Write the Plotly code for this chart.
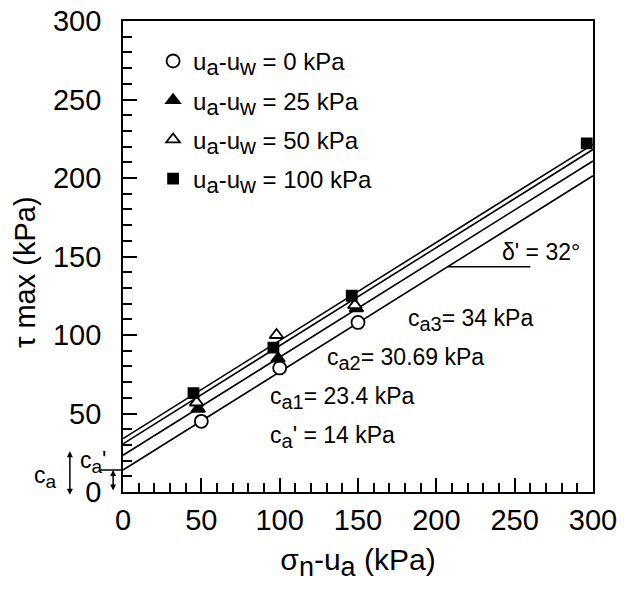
import numpy as np
import plotly.graph_objects as go

# ---- data ----
x_s0 = [50, 100, 150]
y_s0 = [45, 79, 108]
x_s25 = [48, 99, 149]
y_s25 = [53, 85, 117]
x_s50 = [47, 98, 148]
y_s50 = [57, 100, 119]
x_s100 = [45, 96, 146, 296]
y_s100 = [63, 92, 125, 222]

intercepts = [14, 23.4, 30.69, 34]   # c_a', c_a1, c_a2, c_a3 (kPa)
delta_deg = 32
line_x = [0, 300]
suction = ["0", "25", "50", "100"]
tick_vals = [0, 50, 100, 150, 200, 250, 300]

FONT = "Liberation Sans, Arial, sans-serif"
slope = np.tan(np.radians(delta_deg))


def sub(t, px):
    return f"<sub><span style='font-size:{px}px'>{t}</span></sub>"


legend_names = [f"u{sub('a', 22)}-u{sub('w', 22)} = {s} kPa" for s in suction]
ca_labels = [f"c{sub('a', 20)}' = 14 kPa", f"c{sub('a1', 20)}= 23.4 kPa",
             f"c{sub('a2', 20)}= 30.69 kPa", f"c{sub('a3', 20)}= 34 kPa"]

fig = go.Figure()

for c in intercepts:
    fig.add_trace(go.Scatter(x=line_x, y=[c + slope * xx for xx in line_x], mode="lines",
                             line=dict(color="black", width=1.6), showlegend=False,
                             hoverinfo="skip"))

series = [
    (x_s0, y_s0, "circle", 13, "white", legend_names[0]),
    (x_s25, y_s25, "triangle-up", 12, "black", legend_names[1]),
    (x_s50, y_s50, "triangle-up", 12, "white", legend_names[2]),
    (x_s100, y_s100, "square", 10, "black", legend_names[3]),
]
for i, (xs, ys, sym, sz, fill, nm) in enumerate(series):
    fig.add_trace(go.Scatter(x=xs, y=ys, mode="markers", name=nm, legendgroup=f"g{i}",
                             marker=dict(symbol=sym, size=sz, color=fill,
                                         line=dict(color="black", width=1.8))))

ann_font = dict(family=FONT, size=23, color="black")
ann_pos = [(134, 35), (140, 60), (180, 85), (222, 109.5)]
for (ax_, ay_), txt in zip(ann_pos, ca_labels):
    fig.add_annotation(x=ax_, y=ay_, text=txt, showarrow=False, font=ann_font)

fig.add_annotation(x=267, y=153, text="δ' = 32°", showarrow=False, font=ann_font)
y_ref = 143.5
fig.add_shape(type="line", x0=(y_ref - intercepts[0]) / slope, x1=260, y0=y_ref, y1=y_ref,
              xref="x", yref="y", line=dict(color="black", width=1.6))

# left-side c_a annotations
fig.add_annotation(x=-0.0955, xref="paper", y=19, yref="y", text=f"c{sub('a', 19)}'",
                   showarrow=False, font=dict(family=FONT, size=23, color="black"))
fig.add_annotation(x=-0.194, xref="paper", y=9.5, yref="y", text=f"c{sub('a', 19)}",
                   showarrow=False, font=dict(family=FONT, size=23, color="black"))
fig.add_shape(type="line", x0=-0.049, x1=0, xref="paper", y0=intercepts[0], y1=intercepts[0],
              yref="y", line=dict(color="black", width=1.5))
fig.add_annotation(x=-0.021, xref="paper", y=intercepts[0], yref="y", ax=0, ay=22,
                   showarrow=True, arrowside="end+start", arrowhead=2, arrowsize=0.8,
                   arrowwidth=1.5, arrowcolor="black", text="")
fig.add_annotation(x=-0.113, xref="paper", y=26, yref="y", ax=0, ay=45,
                   showarrow=True, arrowside="end+start", arrowhead=2, arrowsize=0.8,
                   arrowwidth=1.5, arrowcolor="black", text="")

# y-axis title placed as rotated text
fig.add_annotation(x=-0.2085, xref="paper", y=0.467, yref="paper", text="τ max (kPa)",
                   textangle=-90, showarrow=False, xanchor="center", yanchor="middle",
                   font=dict(family=FONT, size=29, color="black"))

axis_common = dict(
    range=[0, 300], showline=True, linecolor="black", linewidth=1.8, mirror=True,
    showgrid=False, zeroline=False, ticks="inside", ticklen=14, tickwidth=1.8,
    tickcolor="black", tickmode="array", tickvals=tick_vals, automargin=False,
    tickfont=dict(family=FONT, size=29, color="black"), ticklabeloverflow="allow",
    minor=dict(dtick=10, tick0=0, ticks="inside", ticklen=9, tickwidth=1.8, tickcolor="black",
               showgrid=False),
)

fig.update_layout(
    width=624, height=592,
    margin=dict(l=123, r=31, t=21, b=100),
    paper_bgcolor="white", plot_bgcolor="white",
    font=dict(family=FONT, color="black"),
    showlegend=True,
    legend=dict(x=0.064, y=0.962, xanchor="left", yanchor="top", bgcolor="rgba(0,0,0,0)",
                font=dict(family=FONT, size=24, color="black"), tracegroupgap=5,
                traceorder="grouped", itemwidth=30),
    xaxis=dict(**axis_common, ticklabelstandoff=1,
               title=dict(text=f"σ{sub('n', 27)}-u{sub('a', 27)} (kPa)",
                          font=dict(family=FONT, size=30, color="black"), standoff=14)),
    yaxis=dict(**axis_common, ticklabelstandoff=14),
)

# remove the page's default body margin so the figure sits at the window's corner
fig.write_html("out.html", config={"displayModeBar": False},
               post_script="document.body.style.margin='0';")
